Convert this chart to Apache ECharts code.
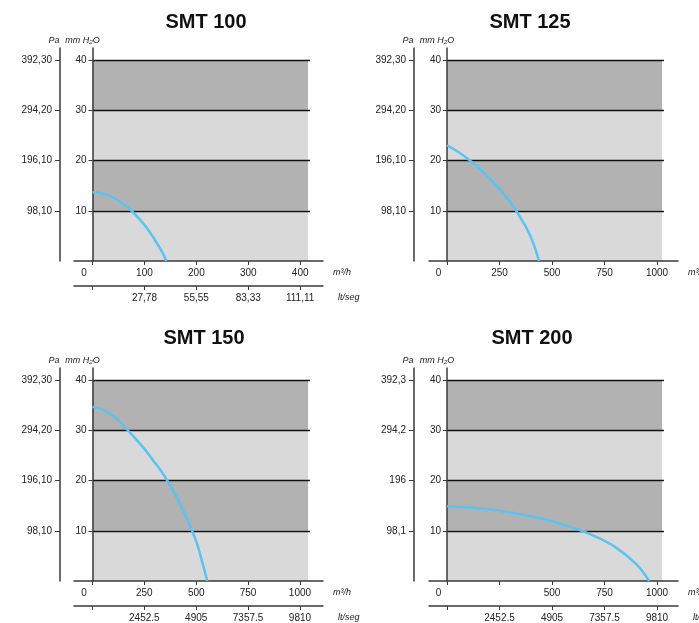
<!DOCTYPE html>
<html>
<head>
<meta charset="utf-8">
<script src="https://cdn.jsdelivr.net/npm/echarts@6/dist/echarts.min.js"></script>
<style>
html,body{margin:0;padding:0;background:#fff;}
#chart{width:699px;height:623px;}
</style>
</head>
<body>
<div id="chart"></div>
<script>
// ---------- data ----------
const titles = ['SMT 100', 'SMT 125', 'SMT 150', 'SMT 200'];

// fan curves: flow (m3/h) and static pressure (mm H2O)
const flow100 = [0, 15, 30, 45, 60, 75, 90, 105, 120, 135, 142];
const pres100 = [13.7, 13.55, 13.1, 12.35, 11.3, 10.0, 8.4, 6.5, 4.2, 1.6, 0];
const flow125 = [0, 50, 100, 150, 200, 250, 300, 350, 400, 438];
const pres125 = [23.0, 21.8, 20.3, 18.6, 16.6, 14.3, 11.8, 8.6, 4.7, 0];
const flow150 = [0, 50, 100, 150, 200, 250, 300, 350, 400, 450, 500, 525, 553];
const pres150 = [34.7, 34.1, 32.9, 30.9, 28.7, 26.3, 23.6, 20.7, 17.1, 12.9, 7.9, 4.4, 0];
const flow200 = [0, 100, 200, 300, 400, 500, 600, 700, 800, 900, 963];
const pres200 = [14.9, 14.7, 14.3, 13.7, 12.9, 11.9, 10.6, 9.0, 6.8, 3.4, 0];

// tick values and labels
const xTicks100 = [0, 100, 200, 300, 400];
const xLabels100 = ['0', '100', '200', '300', '400'];
const lsLabels100 = ['', '27,78', '55,55', '83,33', '111,11'];
const xTicks1000 = [0, 250, 500, 750, 1000];
const xLabels125 = ['0', '250', '500', '750', '1000'];
const xLabels150 = ['0', '250', '500', '750', '1000'];
const lsLabels150 = ['', '2452.5', '4905', '7357.5', '9810'];
const xLabels200 = ['0', '', '500', '750', '1000'];
const lsLabels200 = ['', '2452.5', '4905', '7357.5', '9810'];
const mmTicks = [10, 20, 30, 40];
const mmLabels = ['10', '20', '30', '40'];
const paLabels = ['98,10', '196,10', '294,20', '392,30'];
const paLabels200 = ['98,1', '196', '294,2', '392,3'];
const bandEdges = [0, 10, 20, 30, 40];

// ---------- layout / style ----------
const FONT = '"Liberation Sans", Arial, sans-serif';
const LIGHT = '#d9d9d9', DARK = '#b2b2b2', CURVE = '#5cc3f0', AXIS = '#3a3a3a', TXT = '#222';

const panels = [
  { title: titles[0], tx: 206, ty: 24, left: 74, top: 48, xmin: -35.7, xmax: 444, plotMax: 415, lineMax: 419, paOff: 14, mmOff: -18.5,
    flow: flow100, pres: pres100, ticks: xTicks100, labels: xLabels100, ls: lsLabels100, pa: paLabels },
  { title: titles[1], tx: 530, ty: 24, left: 429, top: 48, xmin: -86, xmax: 1100, plotMax: 1024, lineMax: 1033, paOff: 15, mmOff: -18,
    flow: flow125, pres: pres125, ticks: xTicks1000, labels: xLabels125, ls: null, pa: paLabels },
  { title: titles[2], tx: 204, ty: 340, left: 74, top: 368, xmin: -89, xmax: 1111, plotMax: 1039, lineMax: 1048, paOff: 14, mmOff: -18.5,
    flow: flow150, pres: pres150, ticks: xTicks1000, labels: xLabels150, ls: lsLabels150, pa: paLabels },
  { title: titles[3], tx: 532, ty: 340, left: 429, top: 368, xmin: -86, xmax: 1100, plotMax: 1024, lineMax: 1033, paOff: 15, mmOff: -18,
    flow: flow200, pres: pres200, ticks: xTicks1000, labels: xLabels200, ls: lsLabels200, pa: paLabels200 }
];

const option = { animation: false, title: [], grid: [], xAxis: [], yAxis: [], series: [] };

function tickLabel(ticks, labels) {
  return function (v) {
    const i = ticks.indexOf(v);
    const s = i >= 0 ? labels[i] : '';
    if (v === 0 && s) return '{z|' + s + '}';
    return s;
  };
}

panels.forEach(function (p, gi) {
  option.title.push({
    text: p.title, left: p.tx, top: p.ty - 12, textAlign: 'center', padding: 0,
    textStyle: { fontSize: 20, fontWeight: 'bold', fontFamily: FONT, color: '#111' }
  });
  option.grid.push({ left: p.left, top: p.top, width: 249, height: 213, containLabel: false, outerBoundsMode: 'none' });

  const labelStyle = { fontSize: 10, fontFamily: FONT, color: TXT };
  const nameStyle = { fontSize: 9, fontFamily: FONT, fontStyle: 'italic', color: TXT };

  // main x axis (m3/h)
  const xMainIdx = option.xAxis.length;
  const labVals = p.ticks.filter(function (v, i) { return p.labels[i] !== ''; });
  option.xAxis.push({
    type: 'value', gridIndex: gi, position: 'bottom', min: p.xmin, max: p.xmax, z: 6,
    axisLine: { onZero: false, lineStyle: { color: AXIS, width: 1.5 } },
    axisTick: { customValues: p.ticks, length: 4, lineStyle: { color: AXIS, width: 1 } },
    axisLabel: Object.assign({ customValues: labVals, margin: 7, formatter: tickLabel(p.ticks, p.labels),
      rich: { z: { fontSize: 10, fontFamily: FONT, color: TXT, padding: [0, 17, 0, 0] } } }, labelStyle),
    splitLine: { show: false },
    name: 'm³/h', nameLocation: 'end', nameGap: 10,
    nameTextStyle: Object.assign({ align: 'left', verticalAlign: 'top', padding: [7, 0, 0, 0] }, nameStyle)
  });
  // secondary x axis (lt/seg)
  if (p.ls) {
    const lsVals = p.ticks.filter(function (v, i) { return p.ls[i] !== ''; });
    option.xAxis.push({
      type: 'value', gridIndex: gi, position: 'bottom', offset: 25, min: p.xmin, max: p.xmax, z: 6,
      axisLine: { onZero: false, lineStyle: { color: AXIS, width: 1.5 } },
      axisTick: { customValues: p.ticks, length: 4, lineStyle: { color: AXIS, width: 1 } },
      axisLabel: Object.assign({ customValues: lsVals, margin: 7, formatter: tickLabel(p.ticks, p.ls) }, labelStyle),
      splitLine: { show: false },
      name: 'lt/seg', nameLocation: 'end', nameGap: 15,
      nameTextStyle: Object.assign({ align: 'left', verticalAlign: 'top', padding: [7, 0, 0, 0] }, nameStyle)
    });
  }
  // mm H2O axis
  const yMmIdx = option.yAxis.length;
  option.yAxis.push({
    type: 'value', gridIndex: gi, position: 'left', offset: p.mmOff, min: 0, max: 42.4, z: 6,
    axisLine: { show: true, onZero: false, lineStyle: { color: AXIS, width: 1.5 } },
    axisTick: { show: true, customValues: mmTicks, length: 4, lineStyle: { color: AXIS, width: 1 } },
    axisLabel: Object.assign({ customValues: mmTicks, margin: 6, formatter: tickLabel(mmTicks, mmLabels) }, labelStyle),
    splitLine: { show: false },
    name: 'mm H₂O', nameLocation: 'end', nameGap: 3,
    nameTextStyle: Object.assign({ align: 'center', padding: [0, 20, 0, 0] }, nameStyle)
  });
  // Pa axis
  option.yAxis.push({
    type: 'value', gridIndex: gi, position: 'left', offset: p.paOff, min: 0, max: 42.4, z: 6,
    axisLine: { show: true, onZero: false, lineStyle: { color: AXIS, width: 1.5 } },
    axisTick: { show: true, customValues: mmTicks, length: 5, lineStyle: { color: AXIS, width: 1 } },
    axisLabel: Object.assign({ customValues: mmTicks, margin: 8, formatter: tickLabel(mmTicks, p.pa) }, labelStyle),
    splitLine: { show: false },
    name: 'Pa', nameLocation: 'end', nameGap: 3,
    nameTextStyle: Object.assign({ align: 'center', padding: [0, 12, 0, 0] }, nameStyle)
  });

  // background bands + horizontal rules
  const bands = [];
  for (let i = 0; i < bandEdges.length - 1; i++) {
    bands.push([
      { coord: [0, bandEdges[i]], itemStyle: { color: i % 2 === 0 ? LIGHT : DARK } },
      { coord: [p.plotMax, bandEdges[i + 1]] }
    ]);
  }
  const rules = mmTicks.map(function (v) { return [{ coord: [0, v] }, { coord: [p.lineMax, v] }]; });
  option.series.push({
    type: 'line', xAxisIndex: xMainIdx, yAxisIndex: yMmIdx, data: [], z: 1, silent: true,
    markArea: { silent: true, z: 1, label: { show: false }, data: bands },
    markLine: { silent: true, z: 5, symbol: ['none', 'none'], label: { show: false },
      lineStyle: { color: '#111', width: 1.3, type: 'solid' }, emphasis: { disabled: true }, data: rules }
  });
  // fan curve
  option.series.push({
    type: 'line', xAxisIndex: xMainIdx, yAxisIndex: yMmIdx, z: 10, silent: true,
    smooth: 0.4, showSymbol: false, symbol: 'none',
    lineStyle: { color: CURVE, width: 2.5 },
    data: p.flow.map(function (f, i) { return [f, p.pres[i]]; })
  });
});

const chart = echarts.init(document.getElementById('chart'), null, { renderer: 'canvas' });
chart.setOption(option);
</script>
</body>
</html>
